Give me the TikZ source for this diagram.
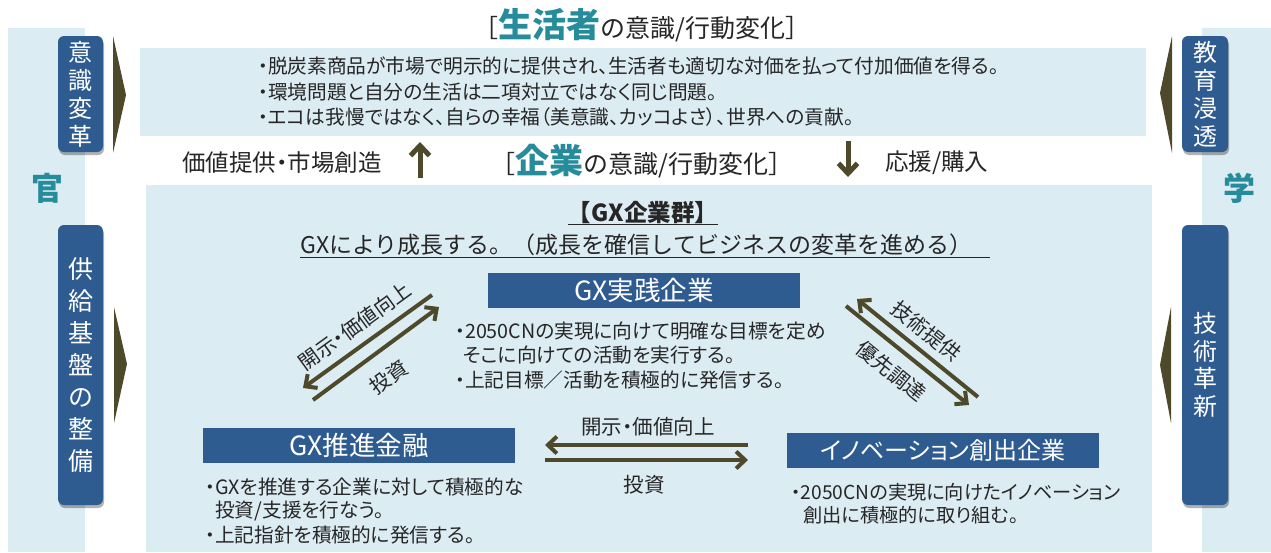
\documentclass[tikz,border=0pt]{standalone}
\usepackage{fontspec}
\setmainfont{Noto Sans CJK JP}[RawFeature=+palt]
\newfontfamily\fullw{Noto Sans CJK JP}
\usetikzlibrary{arrows.meta,shadows}
\definecolor{lb}{RGB}{220,236,243}
\definecolor{bbox}{RGB}{46,92,145}
\definecolor{tealc}{RGB}{38,140,156}
\definecolor{olivec}{RGB}{78,73,42}
\definecolor{txt}{RGB}{38,38,38}
\newcommand{\myfs}[2]{\fontsize{#1}{#2}\selectfont}
\tikzset{
  panel/.style={fill=lb, inner sep=0pt, anchor=north west},
  vbox/.style={fill=bbox, rounded corners=6pt, text=white, align=center, inner sep=0pt,
    drop shadow={shadow xshift=1pt, shadow yshift=-3pt, opacity=0.3, fill=black}},
  hbox/.style={fill=bbox, text=white, inner sep=0pt, minimum width=312, minimum height=35},
  lbl/.style={text=txt, inner sep=0pt},
  bul/.style={text=txt, inner sep=0pt, anchor=west, font=\myfs{19.7}{19.7}},
  flow/.style={draw=olivec, line width=4pt, -{Straight Barb[length=9pt,width=17pt]}},
  bigflow/.style={draw=olivec, line width=5pt, -{Straight Barb[length=10pt,width=19pt]}},
  chev/.style={fill=olivec},
  side/.style={text=tealc, inner sep=0pt, font=\myfs{32}{32}\bfseries}
}
\begin{document}
\begin{tikzpicture}[x=1pt,y=-1pt]
\useasboundingbox (0,0) rectangle (1271,552);
\fill[white] (0,0) rectangle (1271,552);
% panels
\node[panel, minimum width=77, minimum height=524] (govstrip) at (8,28) {};
\node[panel, minimum width=69, minimum height=524] (acadstrip) at (1202,28) {};
\node[panel, minimum width=1006, minimum height=88] (consumer) at (140,48) {};
\node[panel, minimum width=1006, minimum height=367] (corp) at (146,185) {};
% side labels
\node[side] (kan) at (47,188) {官};
\node[side] (gaku) at (1239,188) {学};
% vertical boxes
\node[vbox, minimum width=45, minimum height=116, font=\myfs{24}{28}] (ishiki) at (80.5,94) {意\\識\\変\\革};
\node[vbox, minimum width=45, minimum height=280, font=\myfs{25}{32}] (kiban) at (80.5,365) {供\\給\\基\\盤\\の\\整\\備};
\node[vbox, minimum width=46, minimum height=116, font=\myfs{24}{28}] (kyoiku) at (1205,94) {教\\育\\浸\\透};
\node[vbox, minimum width=46, minimum height=280, font=\myfs{24}{27.5}] (gijutsu) at (1205,365) {技\\術\\革\\新};
% chevrons
\fill[chev] (113,36) -- (126,95) -- (113,153) -- cycle;
\fill[chev] (114,307) -- (127,364) -- (114,423) -- cycle;
\fill[chev] (1172,36) -- (1160,93) -- (1172,153) -- cycle;
\fill[chev] (1171,307) -- (1160,365) -- (1171,423) -- cycle;
% titles
\node[lbl, font=\fullw\myfs{25}{25}] (title1) at (642,25) {［{\myfs{34}{34}\bfseries\color{tealc}生活者}の意識/行動変化］};
\node[lbl, font=\fullw\myfs{25}{25}] (title2) at (642,161) {［{\myfs{34}{34}\bfseries\color{tealc}企業}の意識/行動変化］};
% consumer bullets
\node[bul] (c1) at (258,66) {・脱炭素商品が市場で明示的に提供され、生活者も適切な対価を払って付加価値を得る。};
\node[bul] (c2) at (258,92) {・環境問題と自分の生活は二項対立ではなく同じ問題。};
\node[bul] (c3) at (258,117) {・エコは我慢ではなく、自らの幸福（美意識、カッコよさ）、世界への貢献。};
% middle labels
\node[lbl, anchor=west, font=\myfs{23.5}{23.5}] (val) at (182,163) {価値提供・市場創造};
\node[lbl, anchor=west, font=\myfs{23.5}{23.5}] (buy) at (885,163) {応援/購入};
\coordinate (upS) at (420,178);
\coordinate (upE) at (420,142);
\coordinate (dnS) at (848,141);
\coordinate (dnE) at (848,177);
\draw[bigflow] (upS) -- (upE);
\draw[bigflow] (dnS) -- (dnE);
% group titles
\node[lbl, font=\fullw\myfs{23.5}{23.5}\bfseries] (gxg) at (643,213) {\underline{【GX企業群】}};
\node[lbl, anchor=west, font=\fullw\myfs{23}{23}] (gxgrow) at (300,246) {\underline{GXにより成長する。（成長を確信してビジネスの変革を進める）\hspace{18pt}}};
% blue boxes
\node[hbox, font=\myfs{26.5}{26.5}] (jissen) at (644,290.5) {GX実践企業};
\node[hbox, font=\myfs{26.5}{26.5}] (kinyu) at (359,445.5) {GX推進金融};
\node[hbox, font=\myfs{24}{24}] (innov) at (943,450) {イノベーション創出企業};
% bullets
\node[bul] (j1) at (455,331) {・2050CNの実現に向けて明確な目標を定め};
\node[bul] (j2) at (455,355) {\hspace{8pt}そこに向けての活動を実行する。};
\node[bul] (j3) at (455,380) {・上記目標／活動を積極的に発信する。};
\node[bul] (k1) at (205,487) {・GXを推進する企業に対して積極的な};
\node[bul] (k2) at (205,511) {\hspace{10pt}投資/支援を行なう。};
\node[bul] (k3) at (205,535) {・上記指針を積極的に発信する。};
\node[bul, font=\myfs{19.2}{19.2}] (i1) at (791,492) {・2050CNの実現に向けたイノベーション};
\node[bul, font=\myfs{19.2}{19.2}] (i2) at (791,515) {\hspace{12pt}創出に積極的に取り組む。};
% arrows between groups
\coordinate (la1) at (432,295); \coordinate (la2) at (303,388);
\coordinate (lb1) at (313,400); \coordinate (lb2) at (439,307);
\draw[flow] (la1) -- (la2);
\draw[flow] (lb1) -- (lb2);
\coordinate (ra1) at (978,397); \coordinate (ra2) at (857,299);
\coordinate (rb1) at (846,306); \coordinate (rb2) at (969,405);
\draw[flow] (ra1) -- (ra2);
\draw[flow] (rb1) -- (rb2);
\coordinate (ha1) at (748,445); \coordinate (ha2) at (545,445);
\coordinate (hb1) at (545,460); \coordinate (hb2) at (748,460);
\draw[flow] (ha1) -- (ha2);
\draw[flow] (hb1) -- (hb2);
% arrow labels
\node[lbl, rotate=36, font=\myfs{20.5}{20.5}] (ll1) at (355,326) {開示・価値向上};
\node[lbl, rotate=36, font=\myfs{20.5}{20.5}] (ll2) at (389,377) {投資};
\node[lbl, rotate=-39, font=\myfs{20.5}{20.5}] (rl1) at (926,331) {技術提供};
\node[lbl, rotate=-39, font=\myfs{20.5}{20.5}] (rl2) at (891,371) {優先調達};
\node[lbl, font=\myfs{20.5}{20.5}] (hl1) at (648,427) {開示・価値向上};
\node[lbl, font=\myfs{20.5}{20.5}] (hl2) at (644,485) {投資};
\end{tikzpicture}
\end{document}
